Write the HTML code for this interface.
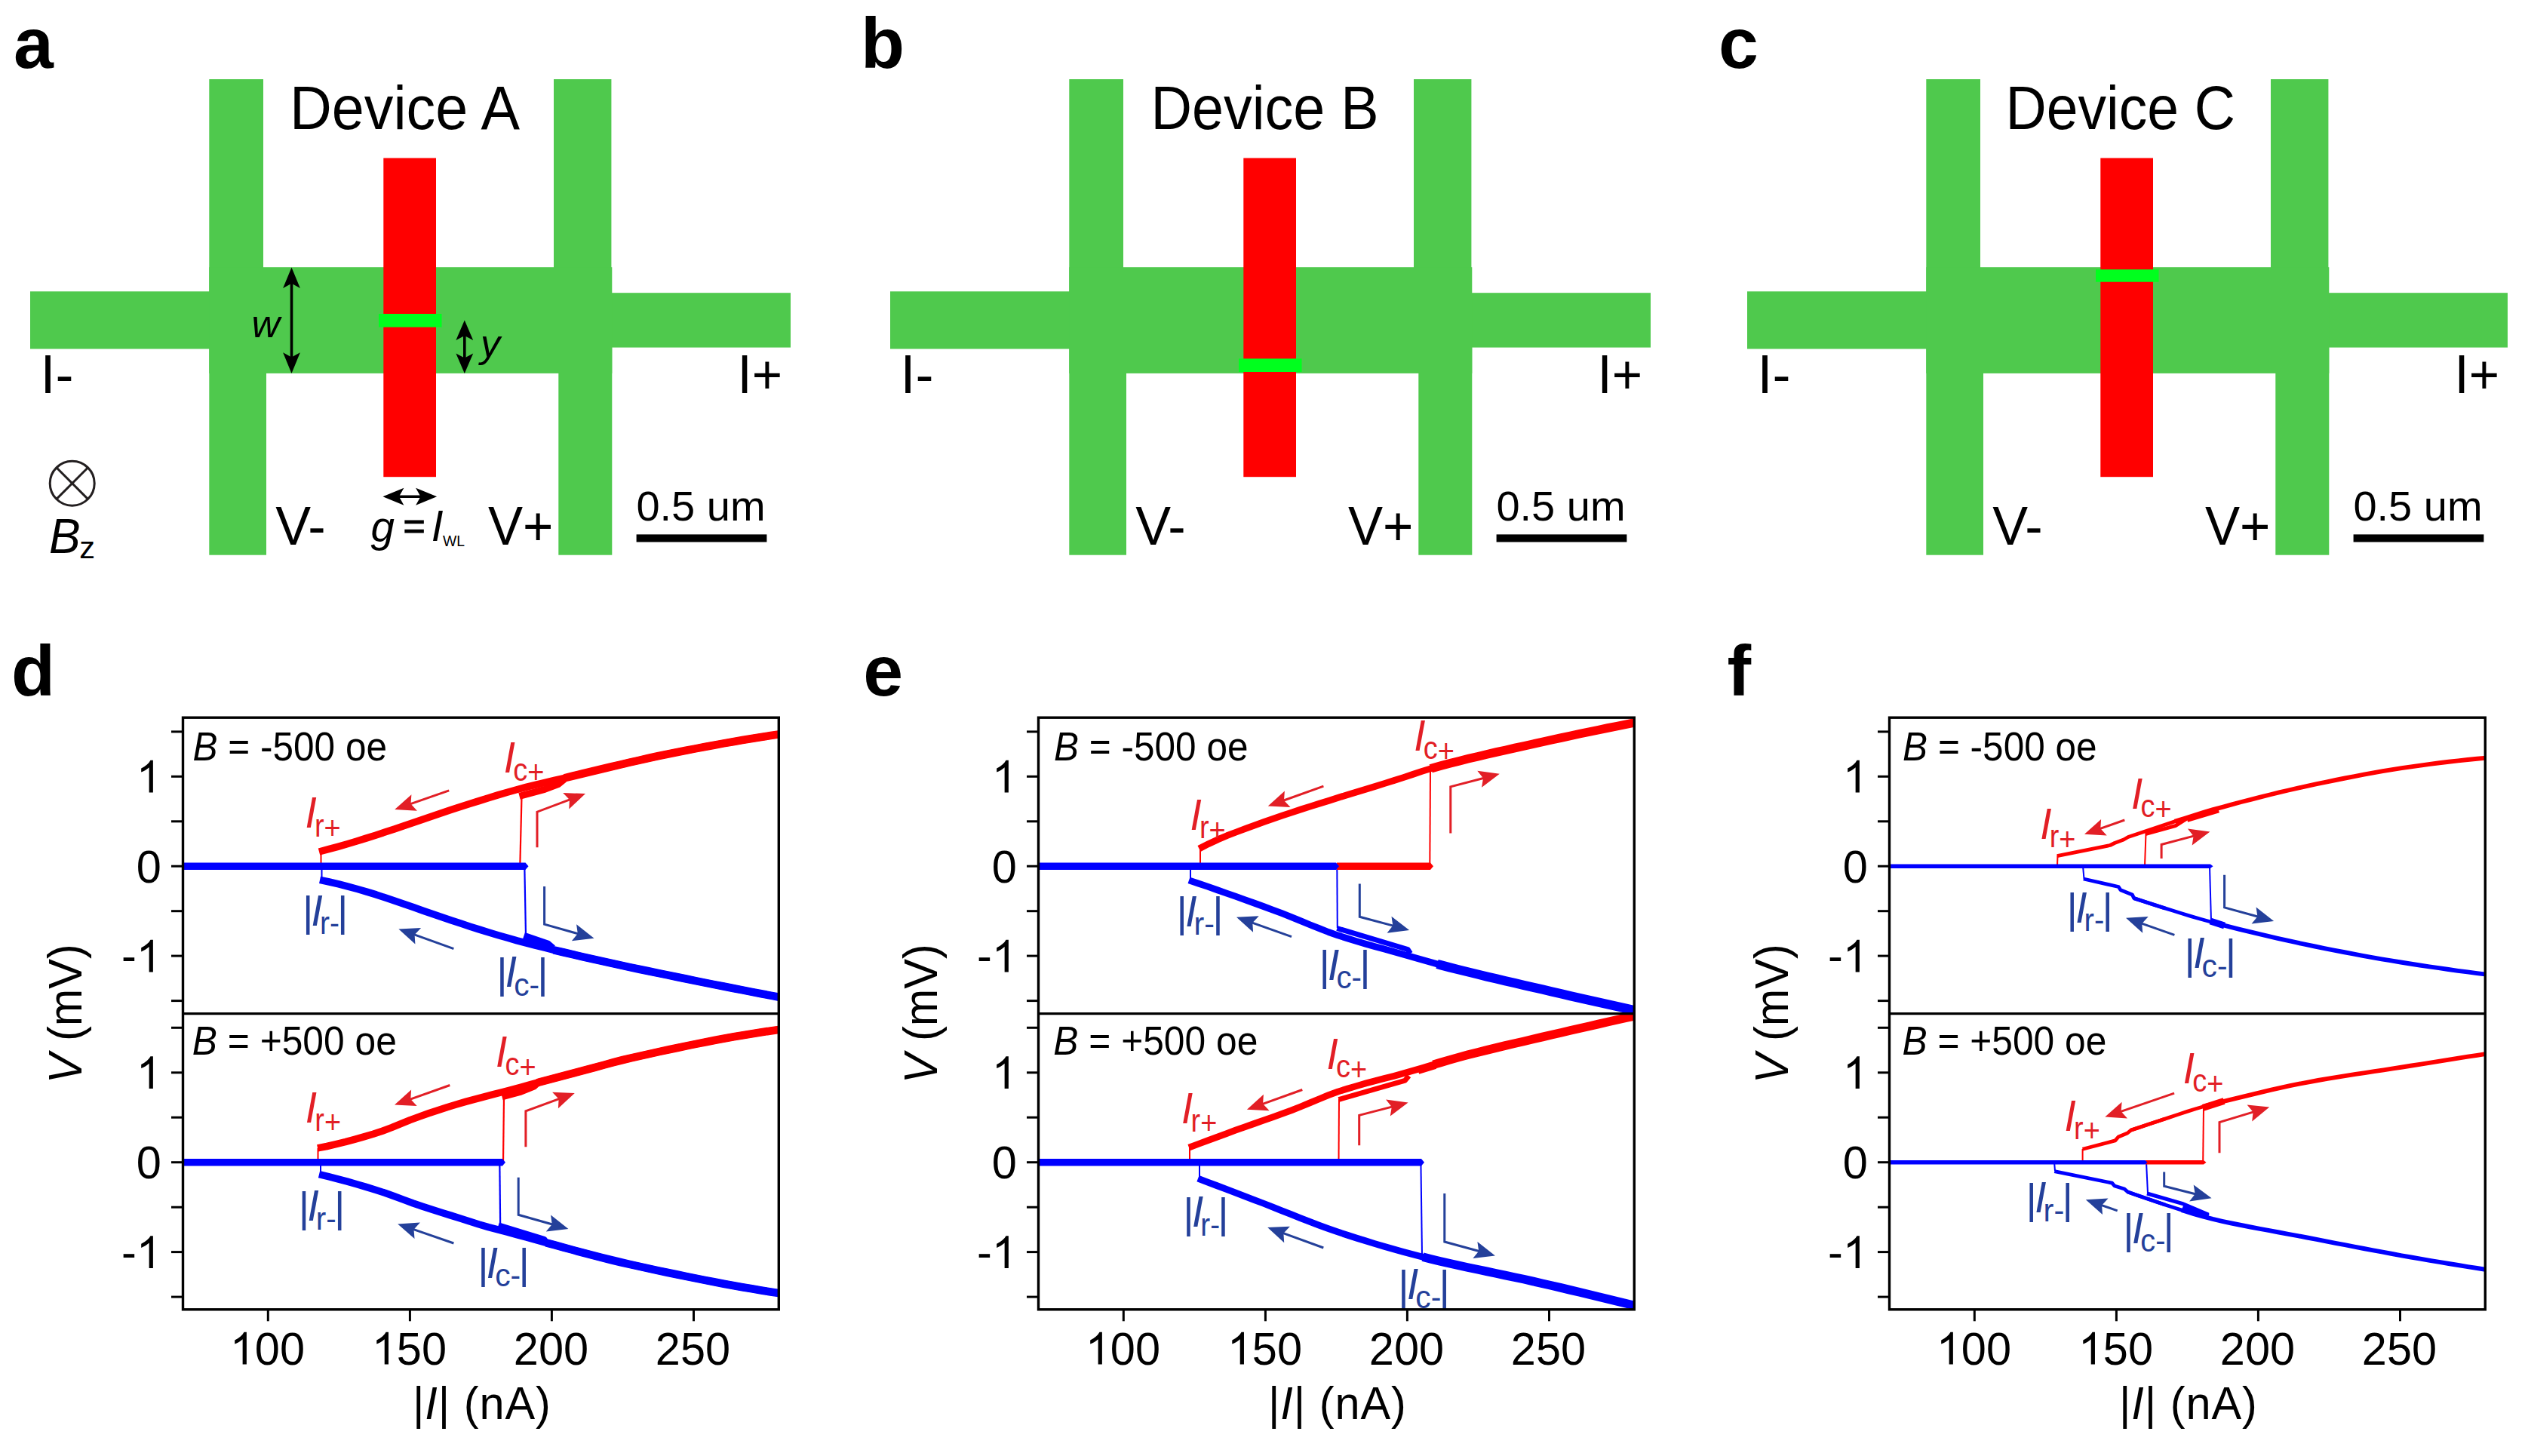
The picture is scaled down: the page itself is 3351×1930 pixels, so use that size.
<!DOCTYPE html>
<html><head><meta charset="utf-8"><title>figure</title>
<style>html,body{margin:0;padding:0;background:#fff}svg{display:block}text{font-family:"Liberation Sans",sans-serif}</style></head>
<body>
<svg width="3351" height="1930" viewBox="0 0 3351 1930">
<rect width="3351" height="1930" fill="#fff"/>
<g transform="translate(0,0)">
<rect x="277.3" y="105" width="71.7" height="295" fill="#4fc94d"/>
<rect x="277.3" y="450" width="75.7" height="285.7" fill="#4fc94d"/>
<rect x="734" y="105" width="76.4" height="295" fill="#4fc94d"/>
<rect x="740.3" y="450" width="71" height="285.7" fill="#4fc94d"/>
<rect x="40" y="386.3" width="260" height="76.2" fill="#4fc94d"/>
<rect x="790" y="388.2" width="258" height="72.4" fill="#4fc94d"/>
<rect x="277.3" y="354.2" width="534" height="140.7" fill="#4fc94d"/>
<rect x="508.3" y="209.5" width="69.7" height="422.7" fill="#ff0000"/>
<rect x="502" y="416" width="83.5" height="17.7" fill="#00ff1e"/>
<text x="384" y="171" font-size="81" textLength="305" lengthAdjust="spacingAndGlyphs">Device A</text>
<text x="53.5" y="521" font-size="72">I-</text>
<text x="977.5" y="521" font-size="72" textLength="59.5" lengthAdjust="spacingAndGlyphs">I+</text>
<text x="365.3" y="722" font-size="72" textLength="66.4" lengthAdjust="spacingAndGlyphs">V-</text>
<text x="647" y="722" font-size="72" textLength="86.5" lengthAdjust="spacingAndGlyphs">V+</text>
<text x="843.4" y="690" font-size="56">0.5 um</text>
<rect x="843.6" y="708.4" width="172.8" height="10.1" fill="#000"/>
</g>
<text x="18" y="90" font-size="95" font-weight="bold">a</text>
<g transform="translate(1140,0)">
<rect x="277.3" y="105" width="71.7" height="295" fill="#4fc94d"/>
<rect x="277.3" y="450" width="75.7" height="285.7" fill="#4fc94d"/>
<rect x="734" y="105" width="76.4" height="295" fill="#4fc94d"/>
<rect x="740.3" y="450" width="71" height="285.7" fill="#4fc94d"/>
<rect x="40" y="386.3" width="260" height="76.2" fill="#4fc94d"/>
<rect x="790" y="388.2" width="258" height="72.4" fill="#4fc94d"/>
<rect x="277.3" y="354.2" width="534" height="140.7" fill="#4fc94d"/>
<rect x="508.3" y="209.5" width="69.7" height="422.7" fill="#ff0000"/>
<rect x="502" y="475.4" width="83.5" height="17.6" fill="#00ff1e"/>
<text x="385.5" y="171" font-size="81" textLength="302" lengthAdjust="spacingAndGlyphs">Device B</text>
<text x="53.5" y="521" font-size="72">I-</text>
<text x="977.5" y="521" font-size="72" textLength="59.5" lengthAdjust="spacingAndGlyphs">I+</text>
<text x="365.3" y="722" font-size="72" textLength="66.4" lengthAdjust="spacingAndGlyphs">V-</text>
<text x="647" y="722" font-size="72" textLength="86.5" lengthAdjust="spacingAndGlyphs">V+</text>
<text x="843.4" y="690" font-size="56">0.5 um</text>
<rect x="843.6" y="708.4" width="172.8" height="10.1" fill="#000"/>
</g>
<text x="1141" y="90" font-size="95" font-weight="bold">b</text>
<g transform="translate(2276,0)">
<rect x="277.3" y="105" width="71.7" height="295" fill="#4fc94d"/>
<rect x="277.3" y="450" width="75.7" height="285.7" fill="#4fc94d"/>
<rect x="734" y="105" width="76.4" height="295" fill="#4fc94d"/>
<rect x="740.3" y="450" width="71" height="285.7" fill="#4fc94d"/>
<rect x="40" y="386.3" width="260" height="76.2" fill="#4fc94d"/>
<rect x="790" y="388.2" width="258" height="72.4" fill="#4fc94d"/>
<rect x="277.3" y="354.2" width="534" height="140.7" fill="#4fc94d"/>
<rect x="508.3" y="209.5" width="69.7" height="422.7" fill="#ff0000"/>
<rect x="502" y="357.2" width="83.5" height="16.5" fill="#00ff1e"/>
<text x="382.5" y="171" font-size="81" textLength="304.5" lengthAdjust="spacingAndGlyphs">Device C</text>
<text x="53.5" y="521" font-size="72">I-</text>
<text x="977.5" y="521" font-size="72" textLength="59.5" lengthAdjust="spacingAndGlyphs">I+</text>
<text x="365.3" y="722" font-size="72" textLength="66.4" lengthAdjust="spacingAndGlyphs">V-</text>
<text x="647" y="722" font-size="72" textLength="86.5" lengthAdjust="spacingAndGlyphs">V+</text>
<text x="843.4" y="690" font-size="56">0.5 um</text>
<rect x="843.6" y="708.4" width="172.8" height="10.1" fill="#000"/>
</g>
<text x="2278" y="90" font-size="95" font-weight="bold">c</text>
<polygon points="386.5,494.9 375.1,467.2 386.5,473.6 397.9,467.2" fill="#000"/>
<polyline points="386.5,475.5 386.5,373.8" fill="none" stroke="#000" stroke-width="3.6" stroke-linejoin="miter"/>
<polygon points="386.5,354.4 397.9,382.1 386.5,375.7 375.1,382.1" fill="#000"/>
<polygon points="615.8,494.9 604.4,468.4 615.8,474.5 627.2,468.4" fill="#000"/>
<polyline points="615.8,476.3 615.8,443.1" fill="none" stroke="#000" stroke-width="3.6" stroke-linejoin="miter"/>
<polygon points="615.8,424.5 627.2,451 615.8,444.9 604.4,451" fill="#000"/>
<polygon points="507.4,658.3 535.4,646.8 529,658.3 535.4,669.8" fill="#000"/>
<polyline points="527,658.3 559.5,658.3" fill="none" stroke="#000" stroke-width="3.4" stroke-linejoin="miter"/>
<polygon points="579.1,658.3 551.1,669.8 557.5,658.3 551.1,646.8" fill="#000"/>
<text x="333.5" y="446.7" font-size="52" font-style="italic">w</text>
<text x="637" y="472.5" font-size="52" font-style="italic">y</text>
<text x="491.5" y="717.8" font-size="56.5" font-style="italic">g</text>
<text x="534.5" y="713.7" font-size="50" stroke="#000" stroke-width="1.2">=</text>
<text x="571.8" y="716.6" font-size="57" font-style="italic">I</text>
<text x="587" y="723.6" font-size="21" textLength="29" lengthAdjust="spacingAndGlyphs">WL</text>
<circle cx="95.7" cy="640.7" r="29.5" fill="none" stroke="#231f20" stroke-width="3"/>
<line x1="74.8" y1="619.8" x2="116.6" y2="661.6" stroke="#231f20" stroke-width="3"/>
<line x1="74.8" y1="661.6" x2="116.6" y2="619.8" stroke="#231f20" stroke-width="3"/>
<text x="65" y="733.1" font-size="64.3" font-style="italic" textLength="41.7" lengthAdjust="spacingAndGlyphs">B</text>
<text x="105.2" y="740" font-size="41.5">z</text>
<g transform="translate(0,0)">
<line x1="227" y1="1326.6" x2="242.5" y2="1326.6" stroke="#000" stroke-width="3"/>
<line x1="227" y1="1267.1" x2="242.5" y2="1267.1" stroke="#000" stroke-width="3"/>
<text transform="translate(160.9,1288.4) scale(1,1.030)" font-size="59.5">-</text>
<path transform="translate(180.7,1288.4) scale(0.02905,-0.02905)" d="M763 0H583V1147Q518 1085 412.5 1023Q307 961 223 930V1104Q374 1175 487 1276Q600 1377 647 1472H763Z"/>
<line x1="227" y1="1207.7" x2="242.5" y2="1207.7" stroke="#000" stroke-width="3"/>
<line x1="227" y1="1148.2" x2="242.5" y2="1148.2" stroke="#000" stroke-width="3"/>
<text transform="translate(180.7,1169.5) scale(1,1.030)" font-size="59.5">0</text>
<line x1="227" y1="1088.8" x2="242.5" y2="1088.8" stroke="#000" stroke-width="3"/>
<line x1="227" y1="1029.3" x2="242.5" y2="1029.3" stroke="#000" stroke-width="3"/>
<path transform="translate(180.7,1050.6) scale(0.02905,-0.02905)" d="M763 0H583V1147Q518 1085 412.5 1023Q307 961 223 930V1104Q374 1175 487 1276Q600 1377 647 1472H763Z"/>
<line x1="227" y1="969.9" x2="242.5" y2="969.9" stroke="#000" stroke-width="3"/>
<line x1="227" y1="1719.1" x2="242.5" y2="1719.1" stroke="#000" stroke-width="3"/>
<line x1="227" y1="1659.6" x2="242.5" y2="1659.6" stroke="#000" stroke-width="3"/>
<text transform="translate(160.9,1680.9) scale(1,1.030)" font-size="59.5">-</text>
<path transform="translate(180.7,1680.9) scale(0.02905,-0.02905)" d="M763 0H583V1147Q518 1085 412.5 1023Q307 961 223 930V1104Q374 1175 487 1276Q600 1377 647 1472H763Z"/>
<line x1="227" y1="1600.2" x2="242.5" y2="1600.2" stroke="#000" stroke-width="3"/>
<line x1="227" y1="1540.7" x2="242.5" y2="1540.7" stroke="#000" stroke-width="3"/>
<text transform="translate(180.7,1562) scale(1,1.030)" font-size="59.5">0</text>
<line x1="227" y1="1481.2" x2="242.5" y2="1481.2" stroke="#000" stroke-width="3"/>
<line x1="227" y1="1421.8" x2="242.5" y2="1421.8" stroke="#000" stroke-width="3"/>
<path transform="translate(180.7,1443.1) scale(0.02905,-0.02905)" d="M763 0H583V1147Q518 1085 412.5 1023Q307 961 223 930V1104Q374 1175 487 1276Q600 1377 647 1472H763Z"/>
<line x1="227" y1="1362.3" x2="242.5" y2="1362.3" stroke="#000" stroke-width="3"/>
<line x1="355.3" y1="1735.8" x2="355.3" y2="1751.3" stroke="#000" stroke-width="3"/>
<path transform="translate(304.7,1808.6) scale(0.02905,-0.02905)" d="M763 0H583V1147Q518 1085 412.5 1023Q307 961 223 930V1104Q374 1175 487 1276Q600 1377 647 1472H763Z"/>
<text transform="translate(337.8,1808.6) scale(1,1.030)" font-size="59.5">00</text>
<line x1="543.4" y1="1735.8" x2="543.4" y2="1751.3" stroke="#000" stroke-width="3"/>
<path transform="translate(492.8,1808.6) scale(0.02905,-0.02905)" d="M763 0H583V1147Q518 1085 412.5 1023Q307 961 223 930V1104Q374 1175 487 1276Q600 1377 647 1472H763Z"/>
<text transform="translate(525.8,1808.6) scale(1,1.030)" font-size="59.5">50</text>
<line x1="731.4" y1="1735.8" x2="731.4" y2="1751.3" stroke="#000" stroke-width="3"/>
<text transform="translate(680.8,1808.6) scale(1,1.030)" font-size="59.5">200</text>
<line x1="919.5" y1="1735.8" x2="919.5" y2="1751.3" stroke="#000" stroke-width="3"/>
<text transform="translate(868.8,1808.6) scale(1,1.030)" font-size="59.5">250</text>
<text transform="translate(546.9,1880.8) scale(1,1.038)" font-size="59.5" letter-spacing="0.95">|<tspan font-style="italic">I</tspan>| (nA)</text>
<text transform="translate(108,1343.7) rotate(-90) scale(1,1.045)" font-size="59.5" text-anchor="middle"><tspan font-style="italic">V</tspan> (mV)</text>
<text transform="translate(255.5,1007.6) scale(1,1.038)" font-size="51" textLength="257.5" lengthAdjust="spacingAndGlyphs"><tspan font-style="italic">B</tspan> = -500 oe</text>
<text transform="translate(254.8,1397.5) scale(1,1.038)" font-size="51" textLength="271" lengthAdjust="spacingAndGlyphs"><tspan font-style="italic">B</tspan> = +500 oe</text>
</g>
<text x="14.9" y="921.6" font-size="95" font-weight="bold">d</text>
<clipPath id="c01"><rect x="242.5" y="951.2" width="790.8" height="392.5"/></clipPath><g clip-path="url(#c01)">
<polyline points="423,1129 435.5,1125.7 447.9,1122.3 460.4,1118.7 472.9,1115 485.3,1111.1 497.8,1107.2 510.3,1103.1 522.8,1098.9 535.2,1094.7 547.7,1090.5 560.2,1086.2 572.6,1082 585.1,1077.8 597.6,1073.6 610,1069.5 622.5,1065.5 635,1061.6 647.4,1057.7 659.9,1053.9 672.4,1050.2 684.9,1046.7 697.3,1043.4 709.8,1040.3 722.3,1037.4 734.7,1034.5 747.2,1031.5 759.7,1028.5 772.1,1025.5 784.6,1022.5 797.1,1019.5 809.6,1016.5 822,1013.6 834.5,1010.7 847,1007.8 859.4,1005 871.9,1002.3 884.4,999.7 896.8,997.2 909.3,994.8 921.8,992.4 934.2,990 946.7,987.7 959.2,985.4 971.7,983.2 984.1,981.1 996.6,979 1009.1,977 1021.5,975.1 1034,973.2" fill="none" stroke="#ff0000" stroke-width="9.5" stroke-linejoin="round"/>
<polyline points="748,1031.3 759.7,1028.5 772.1,1025.5 784.6,1022.5 797.1,1019.5 809.6,1016.5 822,1013.6 834.5,1010.7 847,1007.8 859.4,1005 871.9,1002.3 884.4,999.7 896.8,997.2 909.3,994.8 921.8,992.4 934.2,990 946.7,987.7 959.2,985.4 971.7,983.2 984.1,981.1 996.6,979 1009.1,977 1021.5,975.1 1034,973.2" fill="none" stroke="#ff0000" stroke-width="10.6" stroke-linejoin="round"/>
<polyline points="688.5,1055.3 722,1046.3 740,1039.5 748,1033" fill="none" stroke="#ff0000" stroke-width="9" stroke-linejoin="round"/>
<line x1="689.3" y1="1148" x2="691.5" y2="1056" stroke="#ff0000" stroke-width="2.2"/>
<line x1="425.5" y1="1148" x2="425.5" y2="1128" stroke="#ff0000" stroke-width="2"/>
<polyline points="424,1166.4 436.4,1169 448.9,1171.9 461.3,1175.1 473.8,1178.5 486.2,1182.1 498.7,1185.9 511.1,1190 523.6,1194.2 536,1198.5 548.5,1202.8 560.9,1207.2 573.4,1211.5 585.8,1215.7 598.3,1220 610.7,1224.1 623.2,1228.2 635.6,1232.1 648.1,1236 660.5,1239.7 673,1243.3 685.4,1246.9 697.9,1250.2 710.3,1253.5 722.8,1256.5 735.2,1259.6 747.7,1262.5 760.1,1265.4 772.6,1268.3 785,1271.2 797.5,1273.9 809.9,1276.7 822.4,1279.4 834.8,1282.1 847.3,1284.7 859.7,1287.3 872.2,1289.9 884.6,1292.4 897.1,1295 909.5,1297.5 922,1300.1 934.4,1302.6 946.9,1305.1 959.3,1307.5 971.8,1310 984.2,1312.4 996.7,1314.9 1009.1,1317.3 1021.6,1319.6 1034,1322" fill="none" stroke="#0000ff" stroke-width="9.5" stroke-linejoin="round"/>
<polyline points="734,1259.3 735.2,1259.6 747.7,1262.5 760.1,1265.4 772.6,1268.3 785,1271.2 797.5,1273.9 809.9,1276.7 822.4,1279.4 834.8,1282.1 847.3,1284.7 859.7,1287.3 872.2,1289.9 884.6,1292.4 897.1,1295 909.5,1297.5 922,1300.1 934.4,1302.6 946.9,1305.1 959.3,1307.5 971.8,1310 984.2,1312.4 996.7,1314.9 1009.1,1317.3 1021.6,1319.6 1034,1322" fill="none" stroke="#0000ff" stroke-width="10.6" stroke-linejoin="round"/>
<polyline points="694.5,1240.2 726,1251 733,1257" fill="none" stroke="#0000ff" stroke-width="9" stroke-linejoin="round"/>
<line x1="695.3" y1="1148" x2="697" y2="1240" stroke="#0000ff" stroke-width="2.2"/>
<line x1="426.5" y1="1148" x2="426.5" y2="1166" stroke="#0000ff" stroke-width="2"/>
<polygon points="242,1143.5 696.5,1143.5 700.5,1148.2 696.5,1153 242,1153" fill="#0000ff"/>
</g>
<g fill="#e21f26">
<text transform="translate(404.4,1097.4) scale(1,1.038)" font-size="55" font-style="italic">I</text>
<text x="416.9" y="1108.6" font-size="43" textLength="34.8" lengthAdjust="spacingAndGlyphs">r<tspan dy="3.3">+</tspan></text>
</g>
<g fill="#e21f26">
<text transform="translate(667.8,1023.6) scale(1,1.038)" font-size="55" font-style="italic">I</text>
<text x="680.3" y="1034.8" font-size="43" textLength="41.2" lengthAdjust="spacingAndGlyphs">c<tspan dy="3.3">+</tspan></text>
</g>
<g fill="#24409a">
<text x="401" y="1227.3" font-size="55.5">|</text>
<text x="447.1" y="1227.3" font-size="55.5">|</text>
<text transform="translate(412.6,1226.5) scale(1,1.038)" font-size="55" font-style="italic">I</text>
<text x="424" y="1238.3" font-size="43" textLength="25.9" lengthAdjust="spacingAndGlyphs">r-</text>
</g>
<g fill="#24409a">
<text x="658.2" y="1308.8" font-size="55.5">|</text>
<text x="712.3" y="1308.8" font-size="55.5">|</text>
<text transform="translate(669.8,1308) scale(1,1.038)" font-size="55" font-style="italic">I</text>
<text x="681.2" y="1319.8" font-size="43" textLength="33.9" lengthAdjust="spacingAndGlyphs">c-</text>
</g>
<polyline points="595.2,1047.8 541.4,1066.7" fill="none" stroke="#e21f26" stroke-width="3" stroke-linejoin="miter"/>
<polygon points="523.2,1073.1 545.4,1053.2 544.5,1065.6 552.9,1074.7" fill="#e21f26"/>
<polyline points="712,1123.2 712,1076.2 758,1058.8" fill="none" stroke="#e21f26" stroke-width="3" stroke-linejoin="miter"/>
<polygon points="776,1052 754.3,1072.4 754.9,1060 746.2,1051.1" fill="#e21f26"/>
<polyline points="721.6,1175.1 721.6,1225.2 769,1238.5" fill="none" stroke="#24409a" stroke-width="3" stroke-linejoin="miter"/>
<polygon points="787.5,1243.7 757.9,1247.2 765.8,1237.6 764.1,1225.3" fill="#24409a"/>
<polyline points="601.4,1257.7 546.5,1237.9" fill="none" stroke="#24409a" stroke-width="3" stroke-linejoin="miter"/>
<polygon points="528.4,1231.4 558.1,1230 549.6,1239 550.4,1251.4" fill="#24409a"/>
<clipPath id="c00"><rect x="242.5" y="1343.7" width="790.8" height="392.1"/></clipPath><g clip-path="url(#c00)">
<polyline points="421,1521.9 433.3,1519.5 445.5,1516.7 457.8,1513.7 470,1510.4 482.3,1506.9 494.6,1503.2 506.8,1499.2 519.1,1494.6 531.3,1489.6 543.6,1484.6 555.9,1480.1 568.1,1475.8 580.4,1471.7 592.6,1467.7 604.9,1464 617.2,1460.4 629.4,1457.1 641.7,1453.9 653.9,1450.7 666.2,1447.5 678.5,1444.3 690.7,1441 703,1437.7 715.2,1434.4 727.5,1431.2 739.8,1427.9 752,1424.6 764.3,1421.4 776.5,1418.1 788.8,1414.8 801.1,1411.5 813.3,1408.2 825.6,1405 837.8,1402.2 850.1,1399.4 862.4,1396.6 874.6,1393.9 886.9,1391.3 899.1,1388.7 911.4,1386.1 923.7,1383.6 935.9,1381.2 948.2,1378.8 960.4,1376.5 972.7,1374.3 985,1372.2 997.2,1370.2 1009.5,1368.3 1021.7,1366.4 1034,1364.7" fill="none" stroke="#ff0000" stroke-width="9.5" stroke-linejoin="round"/>
<polyline points="712,1435.3 715.2,1434.4 727.5,1431.2 739.8,1427.9 752,1424.6 764.3,1421.4 776.5,1418.1 788.8,1414.8 801.1,1411.5 813.3,1408.2 825.6,1405 837.8,1402.2 850.1,1399.4 862.4,1396.6 874.6,1393.9 886.9,1391.3 899.1,1388.7 911.4,1386.1 923.7,1383.6 935.9,1381.2 948.2,1378.8 960.4,1376.5 972.7,1374.3 985,1372.2 997.2,1370.2 1009.5,1368.3 1021.7,1366.4 1034,1364.7" fill="none" stroke="#ff0000" stroke-width="10.6" stroke-linejoin="round"/>
<polyline points="665.5,1453.9 688.7,1447.7 707.9,1440.1 712,1436" fill="none" stroke="#ff0000" stroke-width="9" stroke-linejoin="round"/>
<line x1="667" y1="1540" x2="668" y2="1454" stroke="#ff0000" stroke-width="2.2"/>
<line x1="421.5" y1="1540" x2="421.5" y2="1522" stroke="#ff0000" stroke-width="2"/>
<polyline points="423,1556.6 435.5,1559.6 447.9,1562.8 460.4,1566.1 472.9,1569.7 485.3,1573.4 497.8,1577.2 510.3,1581.3 522.8,1585.8 535.2,1590.4 547.7,1595 560.2,1599.2 572.6,1603.3 585.1,1607.2 597.6,1611.1 610,1615 622.5,1619 635,1623 647.4,1626.6 659.9,1629.9 672.4,1633.2 684.9,1636.6 697.3,1640 709.8,1643.4 722.3,1646.8 734.7,1650.2 747.2,1653.6 759.7,1657 772.1,1660.4 784.6,1663.6 797.1,1666.8 809.6,1670 822,1673 834.5,1675.9 847,1678.6 859.4,1681.4 871.9,1684.1 884.4,1686.7 896.8,1689.3 909.3,1691.9 921.8,1694.4 934.2,1696.9 946.7,1699.3 959.2,1701.7 971.7,1704 984.1,1706.2 996.6,1708.3 1009.1,1710.4 1021.5,1712.4 1034,1714.3" fill="none" stroke="#0000ff" stroke-width="9.5" stroke-linejoin="round"/>
<polyline points="724,1647.3 734.7,1650.2 747.2,1653.6 759.7,1657 772.1,1660.4 784.6,1663.6 797.1,1666.8 809.6,1670 822,1673 834.5,1675.9 847,1678.6 859.4,1681.4 871.9,1684.1 884.4,1686.7 896.8,1689.3 909.3,1691.9 921.8,1694.4 934.2,1696.9 946.7,1699.3 959.2,1701.7 971.7,1704 984.1,1706.2 996.6,1708.3 1009.1,1710.4 1021.5,1712.4 1034,1714.3" fill="none" stroke="#0000ff" stroke-width="10.6" stroke-linejoin="round"/>
<polyline points="660.5,1624.7 721,1643.2 724,1648" fill="none" stroke="#0000ff" stroke-width="9" stroke-linejoin="round"/>
<line x1="662.3" y1="1540" x2="663.2" y2="1626" stroke="#0000ff" stroke-width="2.2"/>
<line x1="425" y1="1540" x2="425" y2="1556" stroke="#0000ff" stroke-width="2"/>
<polygon points="242,1536 666,1536 670,1540.7 666,1545.5 242,1545.5" fill="#0000ff"/>
</g>
<g fill="#e21f26">
<text transform="translate(404.8,1487.5) scale(1,1.038)" font-size="55" font-style="italic">I</text>
<text x="417.3" y="1498.7" font-size="43" textLength="34.8" lengthAdjust="spacingAndGlyphs">r<tspan dy="3.3">+</tspan></text>
</g>
<g fill="#e21f26">
<text transform="translate(657,1414.2) scale(1,1.038)" font-size="55" font-style="italic">I</text>
<text x="669.5" y="1425.4" font-size="43" textLength="41.2" lengthAdjust="spacingAndGlyphs">c<tspan dy="3.3">+</tspan></text>
</g>
<g fill="#24409a">
<text x="395.8" y="1618.8" font-size="55.5">|</text>
<text x="442.9" y="1618.8" font-size="55.5">|</text>
<text transform="translate(407.4,1618) scale(1,1.038)" font-size="55" font-style="italic">I</text>
<text x="418.8" y="1629.8" font-size="43" textLength="26.9" lengthAdjust="spacingAndGlyphs">r-</text>
</g>
<g fill="#24409a">
<text x="633.2" y="1694.3" font-size="55.5">|</text>
<text x="687.4" y="1694.3" font-size="55.5">|</text>
<text transform="translate(644.8,1693.5) scale(1,1.038)" font-size="55" font-style="italic">I</text>
<text x="656.2" y="1705.3" font-size="43" textLength="34" lengthAdjust="spacingAndGlyphs">c-</text>
</g>
<polyline points="596.3,1438.5 541.1,1458.1" fill="none" stroke="#e21f26" stroke-width="3" stroke-linejoin="miter"/>
<polygon points="523,1464.5 545.1,1444.6 544.3,1457 552.7,1466.1" fill="#e21f26"/>
<polyline points="696.9,1520.2 696.9,1472.9 743.7,1455.7" fill="none" stroke="#e21f26" stroke-width="3" stroke-linejoin="miter"/>
<polygon points="761.8,1449 739.9,1469.2 740.6,1456.8 732.1,1447.8" fill="#e21f26"/>
<polyline points="687.2,1560.8 687.2,1610.3 734.9,1623.8" fill="none" stroke="#24409a" stroke-width="3" stroke-linejoin="miter"/>
<polygon points="753.4,1629.1 723.8,1632.6 731.7,1622.9 730.1,1610.6" fill="#24409a"/>
<polyline points="601.4,1648 545.4,1628.7" fill="none" stroke="#24409a" stroke-width="3" stroke-linejoin="miter"/>
<polygon points="527.2,1622.4 556.9,1620.6 548.5,1629.8 549.5,1642.1" fill="#24409a"/>
<rect x="242.5" y="951.2" width="789.8" height="784.6" fill="none" stroke="#000" stroke-width="3.4"/>
<line x1="242.5" y1="1343.7" x2="1032.3" y2="1343.7" stroke="#000" stroke-width="3.2"/>
<g transform="translate(1134,0)">
<line x1="227" y1="1326.6" x2="242.5" y2="1326.6" stroke="#000" stroke-width="3"/>
<line x1="227" y1="1267.1" x2="242.5" y2="1267.1" stroke="#000" stroke-width="3"/>
<text transform="translate(160.9,1288.4) scale(1,1.030)" font-size="59.5">-</text>
<path transform="translate(180.7,1288.4) scale(0.02905,-0.02905)" d="M763 0H583V1147Q518 1085 412.5 1023Q307 961 223 930V1104Q374 1175 487 1276Q600 1377 647 1472H763Z"/>
<line x1="227" y1="1207.7" x2="242.5" y2="1207.7" stroke="#000" stroke-width="3"/>
<line x1="227" y1="1148.2" x2="242.5" y2="1148.2" stroke="#000" stroke-width="3"/>
<text transform="translate(180.7,1169.5) scale(1,1.030)" font-size="59.5">0</text>
<line x1="227" y1="1088.8" x2="242.5" y2="1088.8" stroke="#000" stroke-width="3"/>
<line x1="227" y1="1029.3" x2="242.5" y2="1029.3" stroke="#000" stroke-width="3"/>
<path transform="translate(180.7,1050.6) scale(0.02905,-0.02905)" d="M763 0H583V1147Q518 1085 412.5 1023Q307 961 223 930V1104Q374 1175 487 1276Q600 1377 647 1472H763Z"/>
<line x1="227" y1="969.9" x2="242.5" y2="969.9" stroke="#000" stroke-width="3"/>
<line x1="227" y1="1719.1" x2="242.5" y2="1719.1" stroke="#000" stroke-width="3"/>
<line x1="227" y1="1659.6" x2="242.5" y2="1659.6" stroke="#000" stroke-width="3"/>
<text transform="translate(160.9,1680.9) scale(1,1.030)" font-size="59.5">-</text>
<path transform="translate(180.7,1680.9) scale(0.02905,-0.02905)" d="M763 0H583V1147Q518 1085 412.5 1023Q307 961 223 930V1104Q374 1175 487 1276Q600 1377 647 1472H763Z"/>
<line x1="227" y1="1600.2" x2="242.5" y2="1600.2" stroke="#000" stroke-width="3"/>
<line x1="227" y1="1540.7" x2="242.5" y2="1540.7" stroke="#000" stroke-width="3"/>
<text transform="translate(180.7,1562) scale(1,1.030)" font-size="59.5">0</text>
<line x1="227" y1="1481.2" x2="242.5" y2="1481.2" stroke="#000" stroke-width="3"/>
<line x1="227" y1="1421.8" x2="242.5" y2="1421.8" stroke="#000" stroke-width="3"/>
<path transform="translate(180.7,1443.1) scale(0.02905,-0.02905)" d="M763 0H583V1147Q518 1085 412.5 1023Q307 961 223 930V1104Q374 1175 487 1276Q600 1377 647 1472H763Z"/>
<line x1="227" y1="1362.3" x2="242.5" y2="1362.3" stroke="#000" stroke-width="3"/>
<line x1="355.3" y1="1735.8" x2="355.3" y2="1751.3" stroke="#000" stroke-width="3"/>
<path transform="translate(304.7,1808.6) scale(0.02905,-0.02905)" d="M763 0H583V1147Q518 1085 412.5 1023Q307 961 223 930V1104Q374 1175 487 1276Q600 1377 647 1472H763Z"/>
<text transform="translate(337.8,1808.6) scale(1,1.030)" font-size="59.5">00</text>
<line x1="543.4" y1="1735.8" x2="543.4" y2="1751.3" stroke="#000" stroke-width="3"/>
<path transform="translate(492.8,1808.6) scale(0.02905,-0.02905)" d="M763 0H583V1147Q518 1085 412.5 1023Q307 961 223 930V1104Q374 1175 487 1276Q600 1377 647 1472H763Z"/>
<text transform="translate(525.8,1808.6) scale(1,1.030)" font-size="59.5">50</text>
<line x1="731.4" y1="1735.8" x2="731.4" y2="1751.3" stroke="#000" stroke-width="3"/>
<text transform="translate(680.8,1808.6) scale(1,1.030)" font-size="59.5">200</text>
<line x1="919.5" y1="1735.8" x2="919.5" y2="1751.3" stroke="#000" stroke-width="3"/>
<text transform="translate(868.8,1808.6) scale(1,1.030)" font-size="59.5">250</text>
<text transform="translate(546.9,1880.8) scale(1,1.038)" font-size="59.5" letter-spacing="0.95">|<tspan font-style="italic">I</tspan>| (nA)</text>
<text transform="translate(108,1343.7) rotate(-90) scale(1,1.045)" font-size="59.5" text-anchor="middle"><tspan font-style="italic">V</tspan> (mV)</text>
<text transform="translate(263,1007.6) scale(1,1.038)" font-size="51" textLength="257.5" lengthAdjust="spacingAndGlyphs"><tspan font-style="italic">B</tspan> = -500 oe</text>
<text transform="translate(262.3,1397.5) scale(1,1.038)" font-size="51" textLength="271" lengthAdjust="spacingAndGlyphs"><tspan font-style="italic">B</tspan> = +500 oe</text>
</g>
<text x="1144.2" y="921.6" font-size="95" font-weight="bold">e</text>
<clipPath id="c11341"><rect x="1376.5" y="951.2" width="790.8" height="392.5"/></clipPath><g clip-path="url(#c11341)">
<polyline points="1589.5,1125 1601.8,1118.7 1614.1,1112.9 1626.4,1107.7 1638.7,1103 1651,1098.4 1663.4,1093.8 1675.7,1089.4 1688,1085.1 1700.3,1080.9 1712.6,1076.8 1724.9,1072.8 1737.2,1068.9 1749.5,1065 1761.8,1061.2 1774.1,1057.3 1786.4,1053.5 1798.7,1049.7 1811.1,1046 1823.4,1042.2 1835.7,1038.4 1848,1034.5 1860.3,1030.6 1872.6,1026.5 1884.9,1022.4 1897.2,1018.6 1909.5,1015.2 1921.8,1011.9 1934.1,1008.8 1946.4,1005.7 1958.8,1002.8 1971.1,999.9 1983.4,997 1995.7,994.3 2008,991.5 2020.3,988.8 2032.6,986.1 2044.9,983.4 2057.2,980.6 2069.5,978 2081.8,975.3 2094.1,972.7 2106.5,970.1 2118.8,967.6 2131.1,965 2143.4,962.6 2155.7,960.1 2168,957.7" fill="none" stroke="#ff0000" stroke-width="8.8" stroke-linejoin="round"/>
<polyline points="1897,1018.7 1897.2,1018.6 1909.5,1015.2 1921.8,1011.9 1934.1,1008.8 1946.4,1005.7 1958.8,1002.8 1971.1,999.9 1983.4,997 1995.7,994.3 2008,991.5 2020.3,988.8 2032.6,986.1 2044.9,983.4 2057.2,980.6 2069.5,978 2081.8,975.3 2094.1,972.7 2106.5,970.1 2118.8,967.6 2131.1,965 2143.4,962.6 2155.7,960.1 2168,957.7" fill="none" stroke="#ff0000" stroke-width="11.6" stroke-linejoin="round"/>
<line x1="1895.3" y1="1148" x2="1896" y2="1020" stroke="#ff0000" stroke-width="2"/>
<line x1="1591" y1="1148" x2="1591" y2="1124" stroke="#ff0000" stroke-width="2"/>
<polyline points="1576,1166.8 1588.3,1171 1600.7,1175.2 1613,1179.5 1625.3,1183.8 1637.7,1188.2 1650,1192.6 1662.3,1197 1674.7,1201.5 1687,1206.1 1699.3,1210.7 1711.7,1215.6 1724,1220.6 1736.3,1225.7 1748.7,1230.7 1761,1235.5 1773.3,1239.8 1785.7,1243.8 1798,1247.6 1810.3,1251.2 1822.7,1254.7 1835,1258.1 1847.3,1261.5 1859.7,1264.9 1872,1268.5 1884.3,1272 1896.7,1275.6 1909,1279 1921.3,1282.2 1933.7,1285.4 1946,1288.4 1958.3,1291.4 1970.7,1294.4 1983,1297.3 1995.3,1300.2 2007.7,1303 2020,1305.9 2032.3,1308.8 2044.7,1311.6 2057,1314.5 2069.3,1317.3 2081.7,1320.2 2094,1323 2106.3,1325.8 2118.7,1328.6 2131,1331.3 2143.3,1334.1 2155.7,1336.8 2168,1339.5" fill="none" stroke="#0000ff" stroke-width="8.8" stroke-linejoin="round"/>
<polyline points="1905,1277.9 1909,1279 1921.3,1282.2 1933.7,1285.4 1946,1288.4 1958.3,1291.4 1970.7,1294.4 1983,1297.3 1995.3,1300.2 2007.7,1303 2020,1305.9 2032.3,1308.8 2044.7,1311.6 2057,1314.5 2069.3,1317.3 2081.7,1320.2 2094,1323 2106.3,1325.8 2118.7,1328.6 2131,1331.3 2143.3,1334.1 2155.7,1336.8 2168,1339.5" fill="none" stroke="#0000ff" stroke-width="12.3" stroke-linejoin="round"/>
<polyline points="1772.3,1230.5 1866,1258.5 1869.5,1264" fill="none" stroke="#0000ff" stroke-width="7" stroke-linejoin="round"/>
<line x1="1772.3" y1="1148" x2="1772.8" y2="1230" stroke="#0000ff" stroke-width="2"/>
<line x1="1578" y1="1148" x2="1578" y2="1166" stroke="#0000ff" stroke-width="2"/>
<polygon points="1772,1143.5 1896,1143.5 1900,1148.2 1896,1153 1772,1153" fill="#ff0000"/>
<polygon points="1376,1143.5 1771,1143.5 1775,1148.2 1771,1153 1376,1153" fill="#0000ff"/>
</g>
<g fill="#e21f26">
<text transform="translate(1577.4,1100) scale(1,1.038)" font-size="55" font-style="italic">I</text>
<text x="1589.9" y="1111.2" font-size="43" textLength="34.8" lengthAdjust="spacingAndGlyphs">r<tspan dy="3.3">+</tspan></text>
</g>
<g fill="#e21f26">
<text transform="translate(1874.3,995.2) scale(1,1.038)" font-size="55" font-style="italic">I</text>
<text x="1886.8" y="1006.4" font-size="43" textLength="41.2" lengthAdjust="spacingAndGlyphs">c<tspan dy="3.3">+</tspan></text>
</g>
<g fill="#24409a">
<text x="1559.6" y="1228.3" font-size="55.5">|</text>
<text x="1607.2" y="1228.3" font-size="55.5">|</text>
<text transform="translate(1571.2,1227.5) scale(1,1.038)" font-size="55" font-style="italic">I</text>
<text x="1582.6" y="1239.3" font-size="43" textLength="27.4" lengthAdjust="spacingAndGlyphs">r-</text>
</g>
<g fill="#24409a">
<text x="1748.4" y="1299.3" font-size="55.5">|</text>
<text x="1802.2" y="1299.3" font-size="55.5">|</text>
<text transform="translate(1760,1298.5) scale(1,1.038)" font-size="55" font-style="italic">I</text>
<text x="1771.4" y="1310.3" font-size="43" textLength="33.6" lengthAdjust="spacingAndGlyphs">c-</text>
</g>
<polyline points="1754.4,1042.2 1698.9,1062" fill="none" stroke="#e21f26" stroke-width="3" stroke-linejoin="miter"/>
<polygon points="1680.8,1068.5 1702.9,1048.5 1702,1060.9 1710.5,1070" fill="#e21f26"/>
<polyline points="1922.8,1104.6 1922.8,1042.8 1969.2,1030.7" fill="none" stroke="#e21f26" stroke-width="3" stroke-linejoin="miter"/>
<polygon points="1987.8,1025.8 1964.1,1043.8 1966,1031.5 1958.3,1021.7" fill="#e21f26"/>
<polyline points="1802.3,1171.4 1802.3,1215.3 1849.5,1227.9" fill="none" stroke="#24409a" stroke-width="3" stroke-linejoin="miter"/>
<polygon points="1868.1,1232.9 1838.6,1236.8 1846.3,1227.1 1844.5,1214.8" fill="#24409a"/>
<polyline points="1712,1241.6 1657.1,1222.2" fill="none" stroke="#24409a" stroke-width="3" stroke-linejoin="miter"/>
<polygon points="1639,1215.8 1668.7,1214.2 1660.3,1223.3 1661.1,1235.7" fill="#24409a"/>
<clipPath id="c11340"><rect x="1376.5" y="1343.7" width="790.8" height="392.1"/></clipPath><g clip-path="url(#c11340)">
<polyline points="1576,1521.1 1588.3,1516.5 1600.7,1511.9 1613,1507.3 1625.3,1502.8 1637.7,1498.2 1650,1493.8 1662.3,1489.5 1674.7,1485.1 1687,1480.8 1699.3,1476.4 1711.7,1471.9 1724,1467 1736.3,1461.9 1748.7,1456.7 1761,1451.7 1773.3,1447.1 1785.7,1443.2 1798,1439.6 1810.3,1436.1 1822.7,1432.8 1835,1429.6 1847.3,1426.4 1859.7,1423.1 1872,1419.6 1884.3,1416 1896.7,1412.3 1909,1408.6 1921.3,1405 1933.7,1401.5 1946,1398.2 1958.3,1395.1 1970.7,1392 1983,1389 1995.3,1386 2007.7,1383.1 2020,1380.3 2032.3,1377.4 2044.7,1374.5 2057,1371.6 2069.3,1368.8 2081.7,1365.9 2094,1363.1 2106.3,1360.3 2118.7,1357.5 2131,1354.7 2143.3,1351.9 2155.7,1349.2 2168,1346.5" fill="none" stroke="#ff0000" stroke-width="8.8" stroke-linejoin="round"/>
<polyline points="1900,1411.3 1909,1408.6 1921.3,1405 1933.7,1401.5 1946,1398.2 1958.3,1395.1 1970.7,1392 1983,1389 1995.3,1386 2007.7,1383.1 2020,1380.3 2032.3,1377.4 2044.7,1374.5 2057,1371.6 2069.3,1368.8 2081.7,1365.9 2094,1363.1 2106.3,1360.3 2118.7,1357.5 2131,1354.7 2143.3,1351.9 2155.7,1349.2 2168,1346.5" fill="none" stroke="#ff0000" stroke-width="11.6" stroke-linejoin="round"/>
<polyline points="1774.5,1457.5 1862.5,1432.2 1867.5,1426" fill="none" stroke="#ff0000" stroke-width="6.8" stroke-linejoin="round"/>
<polyline points="1880,1420 1903,1413" fill="none" stroke="#ff0000" stroke-width="8" stroke-linejoin="round"/>
<line x1="1774.5" y1="1540" x2="1775" y2="1457" stroke="#ff0000" stroke-width="2"/>
<line x1="1577" y1="1540" x2="1577" y2="1521" stroke="#ff0000" stroke-width="2"/>
<polyline points="1588,1562.2 1600.3,1566.9 1612.7,1571.5 1625,1576.2 1637.4,1580.9 1649.7,1585.6 1662,1590.3 1674.4,1595 1686.7,1599.8 1699.1,1604.8 1711.4,1609.7 1723.7,1614.6 1736.1,1619.4 1748.4,1624.1 1760.8,1628.6 1773.1,1632.9 1785.4,1637 1797.8,1641 1810.1,1644.8 1822.5,1648.6 1834.8,1652.3 1847.1,1655.8 1859.5,1659.2 1871.8,1662.5 1884.2,1665.7 1896.5,1668.8 1908.9,1671.8 1921.2,1674.6 1933.5,1677.4 1945.9,1680.1 1958.2,1682.7 1970.6,1685.3 1982.9,1687.9 1995.2,1690.5 2007.6,1693.1 2019.9,1695.7 2032.3,1698.5 2044.6,1701.3 2056.9,1704.1 2069.3,1707 2081.6,1710 2094,1712.9 2106.3,1715.9 2118.6,1718.8 2131,1721.9 2143.3,1724.9 2155.7,1727.9 2168,1731" fill="none" stroke="#0000ff" stroke-width="8.8" stroke-linejoin="round"/>
<polyline points="1886,1666.2 1896.5,1668.8 1908.9,1671.8 1921.2,1674.6 1933.5,1677.4 1945.9,1680.1 1958.2,1682.7 1970.6,1685.3 1982.9,1687.9 1995.2,1690.5 2007.6,1693.1 2019.9,1695.7 2032.3,1698.5 2044.6,1701.3 2056.9,1704.1 2069.3,1707 2081.6,1710 2094,1712.9 2106.3,1715.9 2118.6,1718.8 2131,1721.9 2143.3,1724.9 2155.7,1727.9 2168,1731" fill="none" stroke="#0000ff" stroke-width="11.6" stroke-linejoin="round"/>
<line x1="1883.4" y1="1540" x2="1885" y2="1663" stroke="#0000ff" stroke-width="2"/>
<line x1="1590" y1="1540" x2="1590" y2="1562" stroke="#0000ff" stroke-width="2"/>
<polygon points="1376,1536 1884,1536 1888,1540.7 1884,1545.5 1376,1545.5" fill="#0000ff"/>
</g>
<g fill="#e21f26">
<text transform="translate(1566.1,1488.9) scale(1,1.038)" font-size="55" font-style="italic">I</text>
<text x="1578.6" y="1500.1" font-size="43" textLength="34.8" lengthAdjust="spacingAndGlyphs">r<tspan dy="3.3">+</tspan></text>
</g>
<g fill="#e21f26">
<text transform="translate(1758.4,1417.2) scale(1,1.038)" font-size="55" font-style="italic">I</text>
<text x="1770.9" y="1428.4" font-size="43" textLength="41.2" lengthAdjust="spacingAndGlyphs">c<tspan dy="3.3">+</tspan></text>
</g>
<g fill="#24409a">
<text x="1568.3" y="1626.8" font-size="55.5">|</text>
<text x="1614.2" y="1626.8" font-size="55.5">|</text>
<text transform="translate(1579.9,1626) scale(1,1.038)" font-size="55" font-style="italic">I</text>
<text x="1591.3" y="1637.8" font-size="43" textLength="25.7" lengthAdjust="spacingAndGlyphs">r-</text>
</g>
<g fill="#24409a">
<text x="1853.3" y="1722.5" font-size="55.5">|</text>
<text x="1907.5" y="1722.5" font-size="55.5">|</text>
<text transform="translate(1864.9,1721.7) scale(1,1.038)" font-size="55" font-style="italic">I</text>
<text x="1876.3" y="1733.5" font-size="43" textLength="34" lengthAdjust="spacingAndGlyphs">c-</text>
</g>
<polyline points="1726.3,1444.5 1671,1464.3" fill="none" stroke="#e21f26" stroke-width="3" stroke-linejoin="miter"/>
<polygon points="1652.9,1470.8 1674.9,1450.8 1674.1,1463.2 1682.6,1472.3" fill="#e21f26"/>
<polyline points="1801.7,1518.2 1801.7,1478.4 1848,1466.4" fill="none" stroke="#e21f26" stroke-width="3" stroke-linejoin="miter"/>
<polygon points="1866.6,1461.6 1842.8,1479.5 1844.8,1467.3 1837.1,1457.5" fill="#e21f26"/>
<polyline points="1914.8,1581.9 1914.8,1646 1963.3,1659.3" fill="none" stroke="#24409a" stroke-width="3" stroke-linejoin="miter"/>
<polygon points="1981.9,1664.4 1952.4,1668.1 1960.2,1658.4 1958.4,1646.1" fill="#24409a"/>
<polyline points="1754.3,1654 1698.3,1633.7" fill="none" stroke="#24409a" stroke-width="3" stroke-linejoin="miter"/>
<polygon points="1680.2,1627.1 1709.9,1625.8 1701.4,1634.8 1702.2,1647.2" fill="#24409a"/>
<rect x="1376.5" y="951.2" width="789.8" height="784.6" fill="none" stroke="#000" stroke-width="3.4"/>
<line x1="1376.5" y1="1343.7" x2="2166.3" y2="1343.7" stroke="#000" stroke-width="3.2"/>
<g transform="translate(2262,0)">
<line x1="227" y1="1326.6" x2="242.5" y2="1326.6" stroke="#000" stroke-width="3"/>
<line x1="227" y1="1267.1" x2="242.5" y2="1267.1" stroke="#000" stroke-width="3"/>
<text transform="translate(160.9,1288.4) scale(1,1.030)" font-size="59.5">-</text>
<path transform="translate(180.7,1288.4) scale(0.02905,-0.02905)" d="M763 0H583V1147Q518 1085 412.5 1023Q307 961 223 930V1104Q374 1175 487 1276Q600 1377 647 1472H763Z"/>
<line x1="227" y1="1207.7" x2="242.5" y2="1207.7" stroke="#000" stroke-width="3"/>
<line x1="227" y1="1148.2" x2="242.5" y2="1148.2" stroke="#000" stroke-width="3"/>
<text transform="translate(180.7,1169.5) scale(1,1.030)" font-size="59.5">0</text>
<line x1="227" y1="1088.8" x2="242.5" y2="1088.8" stroke="#000" stroke-width="3"/>
<line x1="227" y1="1029.3" x2="242.5" y2="1029.3" stroke="#000" stroke-width="3"/>
<path transform="translate(180.7,1050.6) scale(0.02905,-0.02905)" d="M763 0H583V1147Q518 1085 412.5 1023Q307 961 223 930V1104Q374 1175 487 1276Q600 1377 647 1472H763Z"/>
<line x1="227" y1="969.9" x2="242.5" y2="969.9" stroke="#000" stroke-width="3"/>
<line x1="227" y1="1719.1" x2="242.5" y2="1719.1" stroke="#000" stroke-width="3"/>
<line x1="227" y1="1659.6" x2="242.5" y2="1659.6" stroke="#000" stroke-width="3"/>
<text transform="translate(160.9,1680.9) scale(1,1.030)" font-size="59.5">-</text>
<path transform="translate(180.7,1680.9) scale(0.02905,-0.02905)" d="M763 0H583V1147Q518 1085 412.5 1023Q307 961 223 930V1104Q374 1175 487 1276Q600 1377 647 1472H763Z"/>
<line x1="227" y1="1600.2" x2="242.5" y2="1600.2" stroke="#000" stroke-width="3"/>
<line x1="227" y1="1540.7" x2="242.5" y2="1540.7" stroke="#000" stroke-width="3"/>
<text transform="translate(180.7,1562) scale(1,1.030)" font-size="59.5">0</text>
<line x1="227" y1="1481.2" x2="242.5" y2="1481.2" stroke="#000" stroke-width="3"/>
<line x1="227" y1="1421.8" x2="242.5" y2="1421.8" stroke="#000" stroke-width="3"/>
<path transform="translate(180.7,1443.1) scale(0.02905,-0.02905)" d="M763 0H583V1147Q518 1085 412.5 1023Q307 961 223 930V1104Q374 1175 487 1276Q600 1377 647 1472H763Z"/>
<line x1="227" y1="1362.3" x2="242.5" y2="1362.3" stroke="#000" stroke-width="3"/>
<line x1="355.3" y1="1735.8" x2="355.3" y2="1751.3" stroke="#000" stroke-width="3"/>
<path transform="translate(304.7,1808.6) scale(0.02905,-0.02905)" d="M763 0H583V1147Q518 1085 412.5 1023Q307 961 223 930V1104Q374 1175 487 1276Q600 1377 647 1472H763Z"/>
<text transform="translate(337.8,1808.6) scale(1,1.030)" font-size="59.5">00</text>
<line x1="543.4" y1="1735.8" x2="543.4" y2="1751.3" stroke="#000" stroke-width="3"/>
<path transform="translate(492.8,1808.6) scale(0.02905,-0.02905)" d="M763 0H583V1147Q518 1085 412.5 1023Q307 961 223 930V1104Q374 1175 487 1276Q600 1377 647 1472H763Z"/>
<text transform="translate(525.8,1808.6) scale(1,1.030)" font-size="59.5">50</text>
<line x1="731.4" y1="1735.8" x2="731.4" y2="1751.3" stroke="#000" stroke-width="3"/>
<text transform="translate(680.8,1808.6) scale(1,1.030)" font-size="59.5">200</text>
<line x1="919.5" y1="1735.8" x2="919.5" y2="1751.3" stroke="#000" stroke-width="3"/>
<text transform="translate(868.8,1808.6) scale(1,1.030)" font-size="59.5">250</text>
<text transform="translate(546.9,1880.8) scale(1,1.038)" font-size="59.5" letter-spacing="0.95">|<tspan font-style="italic">I</tspan>| (nA)</text>
<text transform="translate(108,1343.7) rotate(-90) scale(1,1.045)" font-size="59.5" text-anchor="middle"><tspan font-style="italic">V</tspan> (mV)</text>
<text transform="translate(260.1,1007.6) scale(1,1.038)" font-size="51" textLength="257.5" lengthAdjust="spacingAndGlyphs"><tspan font-style="italic">B</tspan> = -500 oe</text>
<text transform="translate(259.4,1397.5) scale(1,1.038)" font-size="51" textLength="271" lengthAdjust="spacingAndGlyphs"><tspan font-style="italic">B</tspan> = +500 oe</text>
</g>
<text x="2289.5" y="921.6" font-size="95" font-weight="bold">f</text>
<clipPath id="c22621"><rect x="2504.5" y="951.2" width="790.8" height="392.5"/></clipPath><g clip-path="url(#c22621)">
<polyline points="2726.8,1134.6 2797,1120.5 2803,1117.5 2815,1113 2821,1109.5 2883.6,1088.6" fill="none" stroke="#ff0000" stroke-width="4.8" stroke-linejoin="round"/>
<polyline points="2883,1088.8 2883.5,1088.6 2896,1084.7 2908.5,1080.7 2921,1076.9 2933.5,1073.2 2946,1069.8 2958.5,1066.4 2971,1063 2983.5,1059.8 2996,1056.6 3008.5,1053.5 3021,1050.4 3033.5,1047.5 3046,1044.6 3058.5,1041.9 3071,1039.2 3083.5,1036.6 3096,1034 3108.5,1031.5 3121,1029.1 3133.5,1026.7 3146,1024.4 3158.5,1022.2 3171,1020.1 3183.5,1018.2 3196,1016.3 3208.5,1014.6 3221,1012.9 3233.5,1011.3 3246,1009.8 3258.5,1008.4 3271,1007 3283.5,1005.8 3296,1004.6" fill="none" stroke="#ff0000" stroke-width="5.9" stroke-linejoin="round"/>
<polyline points="2843.7,1105.5 2883.6,1094.7 2899,1085" fill="none" stroke="#ff0000" stroke-width="5" stroke-linejoin="round"/>
<polyline points="2899,1086 2940.8,1073.5" fill="none" stroke="#ff0000" stroke-width="8" stroke-linejoin="round"/>
<line x1="2843" y1="1148" x2="2844.5" y2="1105" stroke="#ff0000" stroke-width="2"/>
<line x1="2727" y1="1148" x2="2727.5" y2="1134" stroke="#ff0000" stroke-width="2"/>
<polyline points="2761.8,1165 2808.2,1175.5 2811,1179.8 2826.5,1186 2828.6,1190.6 2870,1204" fill="none" stroke="#0000ff" stroke-width="4.8" stroke-linejoin="round"/>
<polyline points="2828.6,1190.6 2841.2,1194.8 2853.9,1198.9 2866.5,1202.9 2879.1,1206.8 2891.8,1210.8 2904.4,1214.6 2917,1218.3 2929.7,1221.8 2931,1222.2" fill="none" stroke="#0000ff" stroke-width="4.8" stroke-linejoin="round"/>
<polyline points="2930,1221.9 2942.3,1225.1 2954.9,1228.4 2967.6,1231.6 2980.2,1234.7 2992.8,1237.7 3005.5,1240.7 3018.1,1243.6 3030.7,1246.4 3043.4,1249.2 3056,1251.9 3068.6,1254.5 3081.2,1257.1 3093.9,1259.6 3106.5,1262 3119.1,1264.4 3131.8,1266.8 3144.4,1269.1 3157,1271.3 3169.7,1273.4 3182.3,1275.5 3194.9,1277.5 3207.6,1279.5 3220.2,1281.4 3232.8,1283.2 3245.5,1285 3258.1,1286.8 3270.7,1288.4 3283.4,1290.1 3296,1291.6" fill="none" stroke="#0000ff" stroke-width="5.9" stroke-linejoin="round"/>
<polyline points="2930,1221 2948.6,1227" fill="none" stroke="#0000ff" stroke-width="9" stroke-linejoin="round"/>
<line x1="2929" y1="1148" x2="2931" y2="1221" stroke="#0000ff" stroke-width="2"/>
<line x1="2761" y1="1148" x2="2762.5" y2="1165" stroke="#0000ff" stroke-width="2"/>
<polygon points="2504,1145.4 2930,1145.4 2933.5,1148.2 2930,1151 2504,1151" fill="#0000ff"/>
</g>
<g fill="#e21f26">
<text transform="translate(2704.2,1112.1) scale(1,1.038)" font-size="55" font-style="italic">I</text>
<text x="2716.7" y="1123.3" font-size="43" textLength="34.8" lengthAdjust="spacingAndGlyphs">r<tspan dy="3.3">+</tspan></text>
</g>
<g fill="#e21f26">
<text transform="translate(2824.9,1072.1) scale(1,1.038)" font-size="55" font-style="italic">I</text>
<text x="2837.4" y="1083.3" font-size="43" textLength="41.2" lengthAdjust="spacingAndGlyphs">c<tspan dy="3.3">+</tspan></text>
</g>
<g fill="#24409a">
<text x="2739.6" y="1223.4" font-size="55.5">|</text>
<text x="2786.5" y="1223.4" font-size="55.5">|</text>
<text transform="translate(2751.2,1222.6) scale(1,1.038)" font-size="55" font-style="italic">I</text>
<text x="2762.6" y="1234.4" font-size="43" textLength="26.7" lengthAdjust="spacingAndGlyphs">r-</text>
</g>
<g fill="#24409a">
<text x="2895.6" y="1283.8" font-size="55.5">|</text>
<text x="2949.7" y="1283.8" font-size="55.5">|</text>
<text transform="translate(2907.2,1283) scale(1,1.038)" font-size="55" font-style="italic">I</text>
<text x="2918.6" y="1294.8" font-size="43" textLength="33.9" lengthAdjust="spacingAndGlyphs">c-</text>
</g>
<polyline points="2816.3,1087 2781.2,1099.4" fill="none" stroke="#e21f26" stroke-width="3" stroke-linejoin="miter"/>
<polygon points="2763,1105.8 2785.1,1085.9 2784.3,1098.3 2792.7,1107.4" fill="#e21f26"/>
<polyline points="2865.1,1138 2865.1,1119.5 2910.8,1107.4" fill="none" stroke="#e21f26" stroke-width="3" stroke-linejoin="miter"/>
<polygon points="2929.4,1102.5 2905.7,1120.6 2907.6,1108.3 2899.9,1098.5" fill="#e21f26"/>
<polyline points="2948.6,1159.7 2948.6,1202.9 2995.5,1215.8" fill="none" stroke="#24409a" stroke-width="3" stroke-linejoin="miter"/>
<polygon points="3014.1,1220.9 2984.6,1224.6 2992.4,1214.9 2990.6,1202.6" fill="#24409a"/>
<polyline points="2882.4,1239.4 2836.2,1223.2" fill="none" stroke="#24409a" stroke-width="3" stroke-linejoin="miter"/>
<polygon points="2818,1216.8 2847.7,1215.1 2839.3,1224.3 2840.2,1236.7" fill="#24409a"/>
<clipPath id="c22620"><rect x="2504.5" y="1343.7" width="790.8" height="392.1"/></clipPath><g clip-path="url(#c22620)">
<polyline points="2760.6,1523.2 2803.8,1511.9 2808,1507 2820,1502 2824.7,1498.1 2870,1483" fill="none" stroke="#ff0000" stroke-width="4.8" stroke-linejoin="round"/>
<polyline points="2824.7,1498.1 2837.1,1493.9 2849.5,1489.8 2861.9,1485.7 2874.3,1481.6 2886.7,1477.5 2899.1,1473.4 2911.5,1469.5 2921,1466.7" fill="none" stroke="#ff0000" stroke-width="4.8" stroke-linejoin="round"/>
<polyline points="2920,1467 2923.9,1465.9 2936.3,1462.7 2948.7,1459.6 2961.1,1456.6 2973.5,1453.6 2985.9,1450.6 2998.3,1447.6 3010.7,1444.7 3023.1,1441.9 3035.5,1439.2 3047.9,1436.7 3060.3,1434.3 3072.8,1432 3085.2,1429.9 3097.6,1427.8 3110,1425.9 3122.4,1423.9 3134.8,1422.1 3147.2,1420.2 3159.6,1418.3 3172,1416.4 3184.4,1414.5 3196.8,1412.5 3209.2,1410.6 3221.6,1408.6 3234,1406.6 3246.4,1404.7 3258.8,1402.7 3271.2,1400.7 3283.6,1398.8 3296,1396.8" fill="none" stroke="#ff0000" stroke-width="5.9" stroke-linejoin="round"/>
<polyline points="2920,1468.5 2948,1459.5" fill="none" stroke="#ff0000" stroke-width="9" stroke-linejoin="round"/>
<line x1="2920.2" y1="1540" x2="2921" y2="1468" stroke="#ff0000" stroke-width="2"/>
<line x1="2760.6" y1="1540" x2="2760.6" y2="1523" stroke="#ff0000" stroke-width="2"/>
<polyline points="2723.3,1552.6 2799.6,1568.1 2803,1572 2816,1576 2820.5,1580 2870,1597" fill="none" stroke="#0000ff" stroke-width="4.8" stroke-linejoin="round"/>
<polyline points="2820.5,1580 2833,1584.5 2845.5,1588.8 2858,1593.1 2870.6,1597.2 2883.1,1601.2 2893,1604.4" fill="none" stroke="#0000ff" stroke-width="4.8" stroke-linejoin="round"/>
<polyline points="2892,1604.1 2895.6,1605.2 2908.1,1609.1 2920.6,1612.7 2933.1,1615.9 2945.6,1618.8 2958.1,1621.5 2970.7,1624 2983.2,1626.5 2995.7,1628.9 3008.2,1631.2 3020.7,1633.5 3033.2,1635.8 3045.7,1638.2 3058.2,1640.5 3070.8,1642.9 3083.3,1645.3 3095.8,1647.8 3108.3,1650.2 3120.8,1652.6 3133.3,1655 3145.8,1657.4 3158.4,1659.7 3170.9,1662 3183.4,1664.3 3195.9,1666.5 3208.4,1668.7 3220.9,1670.8 3233.4,1672.9 3245.9,1675 3258.5,1677 3271,1679.1 3283.5,1681 3296,1683" fill="none" stroke="#0000ff" stroke-width="5.9" stroke-linejoin="round"/>
<polyline points="2846,1582 2892.6,1595.3 2927.4,1610" fill="none" stroke="#0000ff" stroke-width="5" stroke-linejoin="round"/>
<polyline points="2893,1601 2927.4,1612.5" fill="none" stroke="#0000ff" stroke-width="8" stroke-linejoin="round"/>
<line x1="2845" y1="1540" x2="2847" y2="1582" stroke="#0000ff" stroke-width="2"/>
<line x1="2723" y1="1540" x2="2724" y2="1552" stroke="#0000ff" stroke-width="2"/>
<polygon points="2844,1537.9 2921,1537.9 2924.5,1540.7 2921,1543.5 2844,1543.5" fill="#ff0000"/>
<polygon points="2504,1537.9 2843.5,1537.9 2846.5,1540.7 2843.5,1543.5 2504,1543.5" fill="#0000ff"/>
</g>
<g fill="#e21f26">
<text transform="translate(2736.6,1498.9) scale(1,1.038)" font-size="55" font-style="italic">I</text>
<text x="2749.1" y="1510.1" font-size="43" textLength="34.8" lengthAdjust="spacingAndGlyphs">r<tspan dy="3.3">+</tspan></text>
</g>
<g fill="#e21f26">
<text transform="translate(2893.7,1436.1) scale(1,1.038)" font-size="55" font-style="italic">I</text>
<text x="2906.2" y="1447.3" font-size="43" textLength="41.2" lengthAdjust="spacingAndGlyphs">c<tspan dy="3.3">+</tspan></text>
</g>
<g fill="#24409a">
<text x="2685.6" y="1608.1" font-size="55.5">|</text>
<text x="2733.5" y="1608.1" font-size="55.5">|</text>
<text transform="translate(2697.2,1607.3) scale(1,1.038)" font-size="55" font-style="italic">I</text>
<text x="2708.6" y="1619.1" font-size="43" textLength="27.7" lengthAdjust="spacingAndGlyphs">r-</text>
</g>
<g fill="#24409a">
<text x="2814.3" y="1648.4" font-size="55.5">|</text>
<text x="2867.6" y="1648.4" font-size="55.5">|</text>
<text transform="translate(2825.9,1647.6) scale(1,1.038)" font-size="55" font-style="italic">I</text>
<text x="2837.3" y="1659.4" font-size="43" textLength="33.1" lengthAdjust="spacingAndGlyphs">c-</text>
</g>
<polyline points="2882.1,1449.1 2808.5,1474.3" fill="none" stroke="#e21f26" stroke-width="3" stroke-linejoin="miter"/>
<polygon points="2790.3,1480.5 2812.6,1460.8 2811.6,1473.2 2820,1482.4" fill="#e21f26"/>
<polyline points="2942,1528.3 2942,1487.6 2989.8,1473.1" fill="none" stroke="#e21f26" stroke-width="3" stroke-linejoin="miter"/>
<polygon points="3008.2,1467.5 2985.2,1486.4 2986.6,1474.1 2978.6,1464.6" fill="#e21f26"/>
<polyline points="2868.7,1553.4 2868.7,1572.3 2912.9,1583.5" fill="none" stroke="#24409a" stroke-width="3" stroke-linejoin="miter"/>
<polygon points="2931.6,1588.2 2902.1,1592.5 2909.7,1582.7 2907.7,1570.4" fill="#24409a"/>
<polyline points="2806.7,1604.9 2783,1596.6" fill="none" stroke="#24409a" stroke-width="3" stroke-linejoin="miter"/>
<polygon points="2764.8,1590.3 2794.5,1588.6 2786.1,1597.7 2787,1610.1" fill="#24409a"/>
<rect x="2504.5" y="951.2" width="789.8" height="784.6" fill="none" stroke="#000" stroke-width="3.4"/>
<line x1="2504.5" y1="1343.7" x2="3294.3" y2="1343.7" stroke="#000" stroke-width="3.2"/>
</svg>
</body></html>
